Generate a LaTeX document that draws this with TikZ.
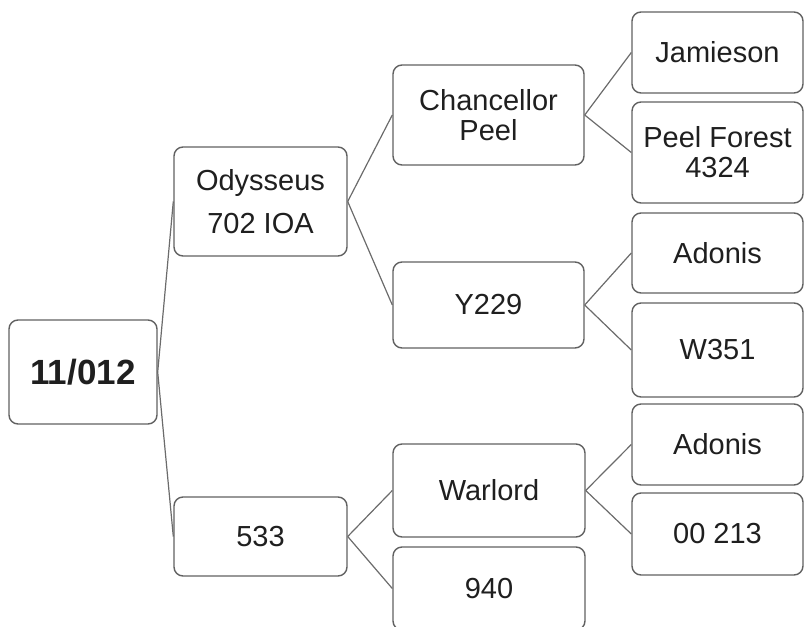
\documentclass[tikz,border=0pt]{standalone}
\usepackage{fontspec}
\setmainfont{Liberation Sans}
\begin{document}
\begin{tikzpicture}[x=1pt,y=-1pt,
  box/.style={draw=black!62, line width=1.4pt, rounded corners=9pt, fill=white,
    inner sep=0pt, align=center, text=black!88, font=\fontsize{29}{30}\selectfont},
  link/.style={draw=black!58, line width=1.2pt}]
\useasboundingbox (0,0) rectangle (805,626);
\begin{scope}
\clip (0,0) rectangle (805,626);
\node[box, minimum width=148pt, minimum height=104pt, font=\fontsize{35}{38}\bfseries] (root) at (83,372) {11/012};
\node[box, minimum width=173pt, minimum height=109pt, font=\fontsize{29}{43}\selectfont] (ody) at (260.5,201.5) {Odysseus\\702 IOA};
\node[box, minimum width=173pt, minimum height=79pt] (n533) at (260.5,536.5) {533};
\node[box, minimum width=191pt, minimum height=100pt] (chan) at (488.5,115) {Chancellor\\Peel};
\node[box, minimum width=191pt, minimum height=86pt] (y229) at (488.5,305) {Y229};
\node[box, minimum width=192pt, minimum height=93pt] (war) at (489,490.5) {Warlord};
\node[box, minimum width=192pt, minimum height=83pt] (n940) at (489,588.5) {940};
\node[box, minimum width=171pt, minimum height=81pt] (jam) at (717.5,52.5) {Jamieson};
\node[box, minimum width=171pt, minimum height=101pt] (pf) at (717.5,152.5) {Peel Forest\\4324};
\node[box, minimum width=171pt, minimum height=80pt] (ad1) at (717.5,253) {Adonis};
\node[box, minimum width=171pt, minimum height=94pt] (w351) at (717.5,350) {W351};
\node[box, minimum width=171pt, minimum height=81pt] (ad2) at (717.5,444.5) {Adonis};
\node[box, minimum width=171pt, minimum height=82pt] (z213) at (717.5,534) {00 213};
\draw[link] (root.east) -- (ody.west);
\draw[link] (root.east) -- (n533.west);
\draw[link] (ody.east) -- (chan.west);
\draw[link] (ody.east) -- (y229.west);
\draw[link] (n533.east) -- (war.west);
\draw[link] (n533.east) -- (n940.west);
\draw[link] (chan.east) -- (jam.west);
\draw[link] (chan.east) -- (pf.west);
\draw[link] (y229.east) -- (ad1.west);
\draw[link] (y229.east) -- (w351.west);
\draw[link] (war.east) -- (ad2.west);
\draw[link] (war.east) -- (z213.west);
\end{scope}
\end{tikzpicture}
\end{document}
